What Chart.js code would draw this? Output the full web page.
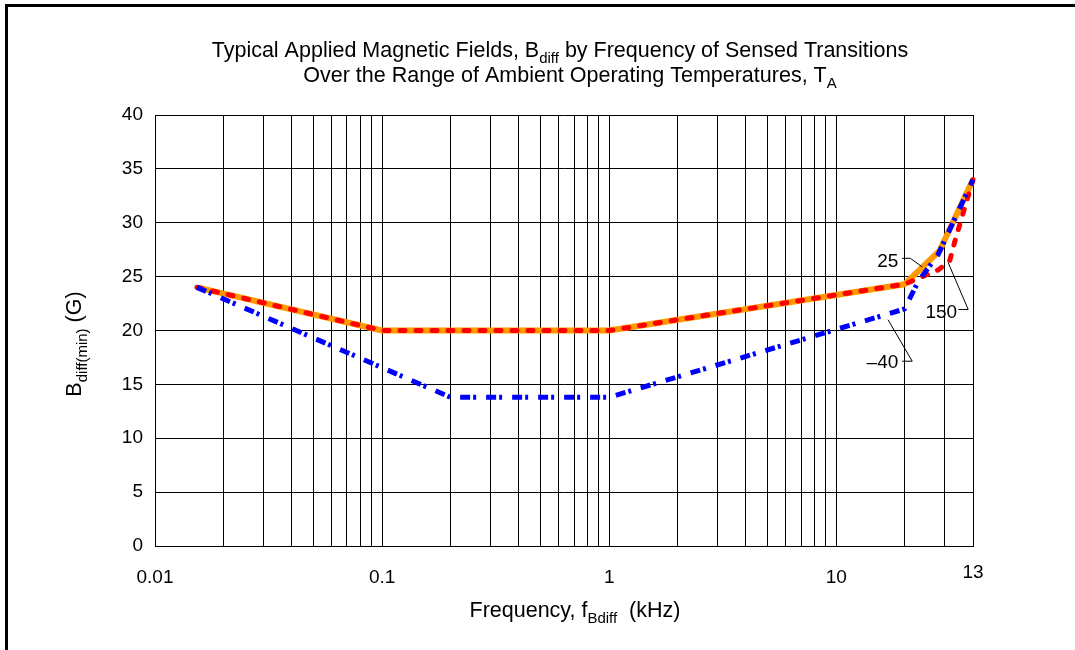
<!DOCTYPE html>
<html>
<head>
<meta charset="utf-8">
<script src="https://cdn.jsdelivr.net/npm/chart.js@4"></script>
<style>
    html, body { margin: 0; padding: 0; background: #fff; }
    #wrap { position: relative; width: 1075px; height: 650px; }
    #frame { position: absolute; left: 5px; top: 4px; right: 0; bottom: 0; border-top: 3px solid #000; border-left: 3px solid #000; pointer-events: none; }
</style>
</head>
<body>
<div id="wrap"><canvas id="chart"></canvas><div id="frame"></div></div>
<script>
// grid lines of the log axis (1..9 per decade), and which of them carry a label
const gridfreqs = [0.01, 0.02, 0.03, 0.04, 0.05, 0.06, 0.07, 0.08, 0.09,
    0.1, 0.2, 0.3, 0.4, 0.5, 0.6, 0.7, 0.8, 0.9,
    1, 2, 3, 4, 5, 6, 7, 8, 9,
    10, 20, 30, 40];
const labelfreqs = [0.01, 0.1, 1, 10];
const labeltexts = ["0.01", "0.1", "1", "10"];
const endfreq = 40;
const endlabel = "13";
const ysteps = 5;

// 25 C (orange), 150 C (red dashed), -40 C (blue dash-dot)
const freq25 = [0.0153, 0.1, 1, 20, 28.5, 40];
const bdiff25 = [24, 20, 20, 24.3, 27.4, 34];
const freq150 = [0.0153, 0.1, 1, 20, 28, 31.5, 33.5, 40];
const bdiff150 = [24, 20, 20, 24.3, 25.6, 26.4, 28.5, 34];
const freqm40 = [0.0153, 0.2, 1, 20, 23, 28, 40];
const bdiffm40 = [24, 13.8, 13.8, 22, 24.6, 27, 34];

// callout labels with their leader lines, in data units
const callouts = [
    { text: "25", tx: 18.75, ty: 26.5, align: "right", path: [[19.5, 26.7], [21.2, 26.7], [23.9, 25.9]] },
    { text: "150", tx: 24.7, ty: 21.8, align: "left", path: [[34.5, 21.95], [38.1, 21.95], [31.1, 26.3]] },
    { text: "\u201340", tx: 18.75, ty: 17.15, align: "right", path: [[19.5, 17.15], [21.6, 17.15], [16.9, 21.0]] },
];

const fontfamily = "'Liberation Sans', Arial, sans-serif";
Chart.defaults.font.family = fontfamily;
Chart.defaults.font.size = 19;
Chart.defaults.color = "#000";

const topoints = (xs, ys) => xs.map((x, i) => ({ x: x, y: ys[i] }));

// text with subscripts: parts = [[text, issub], ...]
function drawrich(ctx, parts, x, y, align, size) {
    const mainfont = `${size}px ${fontfamily}`;
    const subfont = `${Math.round(size * 0.72)}px ${fontfamily}`;
    let total = 0;
    const widths = parts.map(([t, sub]) => {
        ctx.font = sub ? subfont : mainfont;
        const w = ctx.measureText(t).width;
        total += w;
        return w;
    });
    let cx = align === "center" ? x - total / 2 : align === "right" ? x - total : x;
    ctx.textAlign = "left";
    ctx.textBaseline = "alphabetic";
    parts.forEach(([t, sub], i) => {
        ctx.font = sub ? subfont : mainfont;
        ctx.fillText(t, cx, sub ? y + size * 0.28 : y);
        cx += widths[i];
    });
}

const textplugin = {
    id: "texts",
    afterDatasetsDraw(chart) {
        const ctx = chart.ctx;
        const xs = chart.scales.x;
        const ys = chart.scales.y;
        ctx.save();
        ctx.fillStyle = "#000";

        // callouts
        ctx.strokeStyle = "#000";
        ctx.lineWidth = 1;
        callouts.forEach((c) => {
            ctx.beginPath();
            c.path.forEach(([fx, by], i) => {
                const px = xs.getPixelForValue(fx);
                const py = ys.getPixelForValue(by);
                if (i === 0) ctx.moveTo(px, py);
                else ctx.lineTo(px, py);
            });
            ctx.stroke();
            drawrich(ctx, [[c.text, false]], xs.getPixelForValue(c.tx), ys.getPixelForValue(c.ty) + 7, c.align, 19);
        });

        // end label of the x axis sits a little higher than the others
        drawrich(ctx, [[endlabel, false]], xs.getPixelForValue(endfreq), 578, "center", 19);

        // titles
        drawrich(ctx, [["Typical Applied Magnetic Fields, B", false], ["diff", true], [" by Frequency of Sensed Transitions", false]], 560, 57, "center", 21.5);
        drawrich(ctx, [["Over the Range of Ambient Operating Temperatures, T", false], ["A", true]], 570, 82, "center", 21.5);
        drawrich(ctx, [["Frequency, f", false], ["Bdiff", true], ["  (kHz)", false]], 575, 617, "center", 21.5);

        ctx.translate(81, 344);
        ctx.rotate(-Math.PI / 2);
        drawrich(ctx, [["B", false], ["diff(min)", true], [" (G)", false]], 0, 0, "center", 21.5);
        ctx.restore();
    },
};

const ctx = document.getElementById("chart").getContext("2d");

const chart = new Chart(ctx, {
    type: "line",
    data: {
        datasets: [
            {
                label: "-40",
                data: topoints(freqm40, bdiffm40),
                borderColor: "rgb(0, 0, 255)",
                borderWidth: 5,
                borderDash: [10, 3, 3, 10],
                order: 0,
            },
            {
                label: "150",
                data: topoints(freq150, bdiff150),
                borderColor: "rgb(255, 0, 0)",
                borderWidth: 5,
                borderDash: [5, 11],
                borderCapStyle: "round",
                order: 1,
            },
            {
                label: "25",
                data: topoints(freq25, bdiff25),
                borderColor: "rgb(255, 153, 0)",
                borderWidth: 6,
                order: 2,
            },
        ],
    },
    options: {
        responsive: true,
        maintainAspectRatio: false,
        animation: false,
        events: [],
        layout: { padding: { left: 0, top: 115, right: 102, bottom: 0 } },
        elements: {
            point: { radius: 0 },
            line: { tension: 0, fill: false, borderJoinStyle: "round" },
        },
        datasets: { line: { clip: 8 } },
        plugins: {
            legend: { display: false },
            title: { display: false },
            tooltip: { enabled: false },
        },
        scales: {
            x: {
                type: "logarithmic",
                min: 0.01,
                max: 40,
                afterBuildTicks: (axis) => {
                    axis.ticks = gridfreqs.map((v) => ({ value: v }));
                },
                afterFit: (axis) => {
                    axis.height = 104;
                },
                grid: { color: "#000", lineWidth: 1, drawTicks: false },
                border: { color: "#000", width: 1 },
                ticks: {
                    autoSkip: false,
                    maxRotation: 0,
                    padding: 20,
                    callback: (value) => {
                        const i = labelfreqs.findIndex((f) => Math.abs(f - value) < 1e-9);
                        return i >= 0 ? labeltexts[i] : "";
                    },
                },
            },
            y: {
                min: 0,
                max: 40,
                afterFit: (axis) => {
                    axis.width = 155;
                },
                grid: { color: "#000", lineWidth: 1, drawTicks: false },
                border: { color: "#000", width: 1 },
                ticks: { stepSize: ysteps, padding: 12 },
            },
        },
    },
    plugins: [textplugin],
});
</script>
</body>
</html>
